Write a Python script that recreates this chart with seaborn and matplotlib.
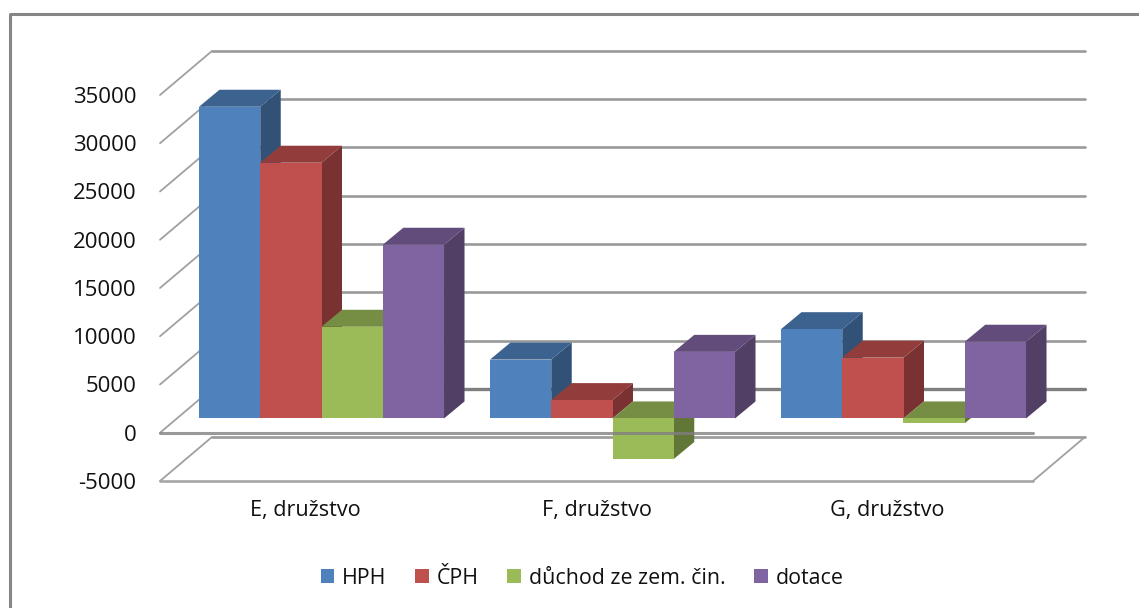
import matplotlib
matplotlib.use("Agg")
import matplotlib.pyplot as plt
import matplotlib.colors as mcolors
from matplotlib.lines import Line2D
from matplotlib.patches import Polygon
from matplotlib.transforms import Affine2D
import pandas as pd
import seaborn as sns

# data
categories = ["E, družstvo", "F, družstvo", "G, družstvo"]
hph = [32300, 6100, 9250]
cph = [26500, 1900, 6300]
duchod = [9500, -4200, -500]
dotace = [18000, 6900, 7950]
series_names = ["HPH", "ČPH", "důchod ze zem. čin.", "dotace"]
y_ticks = [-5000, 0, 5000, 10000, 15000, 20000, 25000, 30000, 35000]
y_labels = ["-5000", "0", "5000", "10000", "15000", "20000", "25000", "30000", "35000"]
colors = ["#4F81BD", "#C0504D", "#9BBB59", "#8064A2"]

W, H = 1139, 608
DPI = 100

sns.set_theme(style="white")
plt.rcParams["font.family"] = ["Open Sans", "DejaVu Sans"]

df = pd.DataFrame({
    "kat": categories * 4,
    "hodnota": hph + cph + duchod + dotace,
    "rada": [s for s in series_names for _ in categories],
})

fig = plt.figure(figsize=(W / DPI, H / DPI), dpi=DPI, facecolor="white")
# the axes box is the front plane of the fake 3D chart
ax = fig.add_axes([160 / W, 1 - 481 / H, 873 / W, 386 / H], facecolor="none")
sns.barplot(data=df, x="kat", y="hodnota", hue="rada", palette=colors, saturation=1,
            width=0.842, ax=ax, legend=False)
ax.set_xlim(-0.5, 2.5)
ax.set_ylim(-5000, 35000)
ax.set_xlabel("")
ax.set_ylabel("")
ax.set_yticks(y_ticks)
ax.set_yticklabels(y_labels, fontsize=16, color="#111111")
ax.tick_params(axis="y", length=0, pad=17)
ax.tick_params(axis="x", length=0, pad=14, labelsize=15.6, labelcolor="#111111")
sns.despine(ax=ax, left=True, bottom=True)

# depth offsets in pixels: back wall, bar front, bar back
wall = ax.transData + Affine2D().translate(52, 44)
bar_front = ax.transData + Affine2D().translate(16, 14.3)
depth = (20.5, 17)


def darker(col, f):
    r, g, b = mcolors.to_rgb(col)
    return (r * f, g * f, b * f)


# back wall and left wall grid
for v in y_ticks:
    lw = 2.4 if v == 0 else 1.9
    col = "#7f7f7f" if v == 0 else "#999999"
    ax.plot([-0.5, 2.5], [v, v], transform=wall, color=col, lw=lw, zorder=1, clip_on=False)
    p0 = ax.transData.transform((-0.5, v))
    p1 = wall.transform((-0.5, v))
    ax.add_line(Line2D([p0[0], p1[0]], [p0[1], p1[1]], transform=None, color="#a0a0a0", lw=1.3,
                       zorder=1, clip_on=False))

# floor at the bottom of the axis
p0 = ax.transData.transform((2.5, -5000))
p1 = wall.transform((2.5, -5000))
ax.add_line(Line2D([p0[0], p1[0]], [p0[1], p1[1]], transform=None, color="#a0a0a0", lw=1.3,
                   zorder=1, clip_on=False))
ax.plot([-0.5, 2.5], [-5000, -5000], color="#a5a5a5", lw=1.9, zorder=1, clip_on=False)

# bars, left to right, each with its side and top
bars = []
for cont, col in zip(ax.containers, colors):
    for b in cont:
        bars.append((b, col))
bars.sort(key=lambda t: t[0].get_x())

for i, (b, col) in enumerate(bars):
    x0, x1 = b.get_x(), b.get_x() + b.get_width()
    y0 = min(b.get_y(), b.get_y() + b.get_height())
    y1 = max(b.get_y(), b.get_y() + b.get_height())
    xa, ya = bar_front.transform((x0, y1))
    xb, yb = bar_front.transform((x1, y0))
    dx, dy = depth
    z = 5 + i
    side = Polygon([(xb, yb), (xb + dx, yb + dy), (xb + dx, ya + dy), (xb, ya)], transform=None,
                   facecolor=darker(col, 0.63), edgecolor="none", zorder=z)
    top = Polygon([(xa, ya), (xa + dx, ya + dy), (xb + dx, ya + dy), (xb, ya)], transform=None,
                  facecolor=darker(col, 0.76), edgecolor="none", zorder=z)
    ax.add_patch(side)
    ax.add_patch(top)
    b.set_transform(bar_front)
    b.set_zorder(z + 0.5)
    b.set_edgecolor("none")
    b.set_clip_on(False)
    side.set_clip_on(False)
    top.set_clip_on(False)

# zero line sits in the front plane, over the bars
ax.plot([-0.5, 2.5], [0, 0], color="#808080", lw=2.2, alpha=0.8, zorder=40, clip_on=False)

handles = [plt.Rectangle((0, 0), 1, 1, facecolor=c, edgecolor="none") for c in colors]
fig.legend(handles, series_names, loc="center", bbox_to_anchor=(582 / W, 1 - 578 / H), ncol=4,
           frameon=False, fontsize=15.4, handlelength=0.65, handleheight=0.65, handletextpad=0.37,
           columnspacing=1.32, labelcolor="#111111")

# chart border, open on the right and at the bottom
fig.add_artist(Line2D([9.5 / W, 9.5 / W, 1],
                      [0, 1 - 13.5 / H, 1 - 13.5 / H], color="#868686", lw=2.2))

fig.savefig("out.png", dpi=DPI)
